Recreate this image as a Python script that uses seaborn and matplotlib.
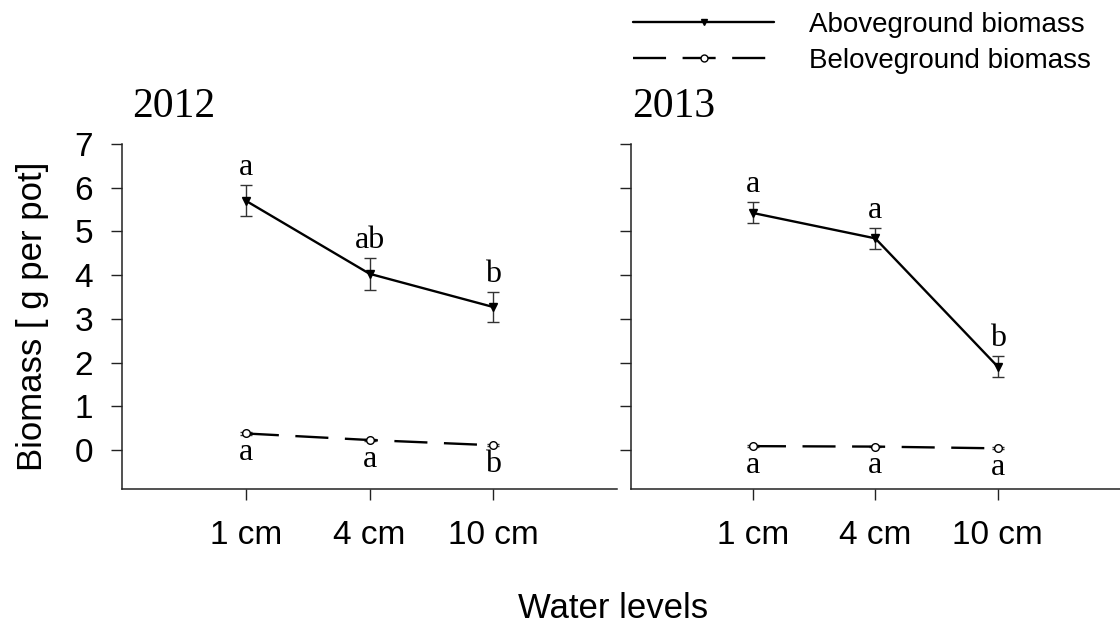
import matplotlib
matplotlib.use('Agg')
import matplotlib.pyplot as plt
import seaborn as sns
import pandas as pd
from matplotlib.lines import Line2D

# ---- data ----
water_levels = ['1 cm', '4 cm', '10 cm']
years = ['2012', '2013']
series_names = ['Aboveground biomass', 'Beloveground biomass']

above_2012 = [5.70, 4.03, 3.27]
above_2012_se = [0.36, 0.37, 0.35]
below_2012 = [0.38, 0.23, 0.11]
below_2012_se = [0.03, 0.02, 0.02]

above_2013 = [5.42, 4.84, 1.91]
above_2013_se = [0.24, 0.24, 0.23]
below_2013 = [0.09, 0.08, 0.04]
below_2013_se = [0.02, 0.02, 0.02]

letters_above_2012 = ['a', 'ab', 'b']
letters_below_2012 = ['a', 'a', 'b']
letters_above_2013 = ['a', 'a', 'b']
letters_below_2013 = ['a', 'a', 'a']

y_ticks = [0, 1, 2, 3, 4, 5, 6, 7]

# ---- build table ----
rows = []
panel = {
    '2012': (above_2012, above_2012_se, below_2012, below_2012_se,
             letters_above_2012, letters_below_2012),
    '2013': (above_2013, above_2013_se, below_2013, below_2013_se,
             letters_above_2013, letters_below_2013),
}
for yr in years:
    a, ase, b, bse, la, lb = panel[yr]
    for i, lvl in enumerate(water_levels):
        rows.append(dict(year=yr, level=lvl, pos=i + 1, series=series_names[0],
                         mean=a[i], se=ase[i], letter=la[i]))
        rows.append(dict(year=yr, level=lvl, pos=i + 1, series=series_names[1],
                         mean=b[i], se=bse[i], letter=lb[i]))
df = pd.DataFrame(rows)

# ---- style ----
sns.set_style('ticks')
plt.rcParams['font.family'] = ['Liberation Sans', 'DejaVu Sans']
plt.rcParams['axes.linewidth'] = 1.1
plt.rcParams['axes.edgecolor'] = '#222222'
plt.rcParams['text.color'] = 'black'
plt.rcParams['axes.labelcolor'] = 'black'
plt.rcParams['xtick.color'] = '#222222'
plt.rcParams['ytick.color'] = '#222222'
plt.rcParams['xtick.labelcolor'] = 'black'
plt.rcParams['ytick.labelcolor'] = 'black'

fig = plt.figure(figsize=(11.2, 6.31), dpi=100)
ax1 = fig.add_axes([0.109, 0.225, 0.442, 0.547])
ax2 = fig.add_axes([0.563, 0.225, 0.437, 0.547])

styles = {
    series_names[0]: dict(marker='v', markerfacecolor='black', markeredgecolor='black',
                          markersize=6, linestyle='-'),
    series_names[1]: dict(marker='o', markerfacecolor='white', markeredgecolor='black',
                          markersize=5.5, linestyle=(0, (14, 7))),
}

serif = ['Liberation Serif', 'DejaVu Serif']

for ax, yr in zip([ax1, ax2], years):
    sub = df[df.year == yr]
    for k, s in enumerate(series_names):
        d = sub[sub.series == s]
        ax.errorbar(d['pos'], d['mean'], yerr=d['se'], fmt='none', ecolor='#333333',
                    elinewidth=1.0, capsize=4.3, capthick=1.0, zorder=2)
        sns.lineplot(data=d, x='pos', y='mean', ax=ax, color='black', linewidth=1.7,
                     markeredgewidth=1.0, legend=False, zorder=3, **styles[s])
        for _, r in d.iterrows():
            if k == 0:
                ty = r['mean'] + r['se'] + 0.40
            else:
                ty = r['mean'] - 0.44
            ax.text(r['pos'], ty, r['letter'], ha='center', va='center',
                    fontsize=23, family=serif, color='black')
    ax.set_xlim(0, 4)
    ax.set_ylim(-0.89, 7)
    ax.set_xticks([1, 2, 3])
    ax.set_yticks(y_ticks)
    ax.set_xlabel('')
    ax.set_ylabel('')
    ax.tick_params(axis='both', direction='out', length=8, width=1.0,
                   labelsize=24)
    ax.tick_params(axis='y', pad=13)
    ax.tick_params(axis='x', pad=14)
    sns.despine(ax=ax)

ax1.set_xticklabels(water_levels)
ax2.set_xticklabels(water_levels)
ax1.set_yticklabels([str(t) for t in y_ticks])
ax2.set_yticklabels([])

ax1.set_ylabel('Biomass [ g per pot]', fontsize=25, labelpad=18, color='black')

fig.text(0.118, 0.815, years[0], fontsize=30, family=serif, va='baseline', ha='left')
fig.text(0.564, 0.815, years[1], fontsize=30, family=serif, va='baseline', ha='left')
fig.text(0.547, 0.036, 'Water levels', fontsize=25, ha='center', va='center')

handles = [
    Line2D([], [], color='black', linewidth=1.7, marker='v', markersize=5,
           markerfacecolor='black', markeredgecolor='black'),
    Line2D([], [], color='black', linewidth=1.7, linestyle=(0, (14, 7)), marker='o',
           markersize=5, markerfacecolor='white', markeredgecolor='black'),
]
fig.legend(handles, series_names, loc='upper left', bbox_to_anchor=(0.550, 1.008),
           frameon=False, fontsize=20, handlelength=5.1, handletextpad=1.25,
           labelspacing=0.38, borderaxespad=0.2, labelcolor='black')

fig.savefig('out.png', dpi=100)
